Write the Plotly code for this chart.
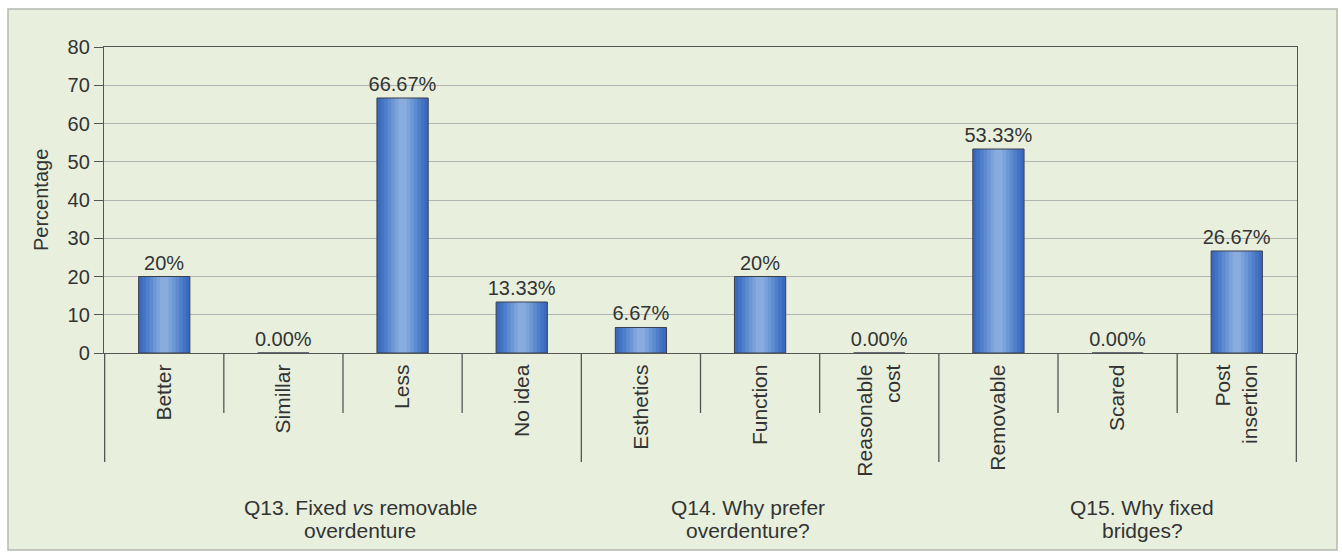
import plotly.graph_objects as go

# ---- data ----
categories = ["Better", "Simillar", "Less", "No idea", "Esthetics", "Function",
              "Reasonable<br>cost", "Removable", "Scared", "Post<br>insertion"]
values = [20, 0, 66.67, 13.33, 6.67, 20, 0, 53.33, 0, 26.67]
value_labels = ["20%", "0.00%", "66.67%", "13.33%", "6.67%", "20%", "0.00%",
                "53.33%", "0.00%", "26.67%"]
group_names = [["Q13. Fixed <i>vs</i> removable", "overdenture"],
               ["Q14. Why prefer", "overdenture?"],
               ["Q15. Why fixed", "bridges?"]]
group_sizes = [4, 3, 3]
y_ticks = [0, 10, 20, 30, 40, 50, 60, 70, 80]

# ---- layout geometry (pixels) ----
W, H = 1342, 554
L, R, T, B = 104, 1297, 47, 353
PW, PH = R - L, B - T


def px2x(px):
    return (px - L) / PW


def px2y(py):
    return (B - py) / PH


FONT = "Liberation Sans, Arial, sans-serif"
TXT = "#333333"
FS = 21

# gradient steps (outer -> inner)
widths = [0.43, 0.37, 0.31, 0.25, 0.19, 0.13, 0.07]
colors = ["#3a69bd", "#4373c3", "#4f7fca", "#5d8bd0", "#6c97d5", "#7ba2da", "#88acde"]

fig = go.Figure()
for w, c in zip(widths, colors):
    fig.add_trace(go.Bar(x=categories, y=values, width=w,
                         marker=dict(color=c, line=dict(width=0)),
                         hoverinfo="skip", showlegend=False))
# outline + labels on top
fig.add_trace(go.Bar(x=categories, y=values, width=widths[0],
                     marker=dict(color="rgba(0,0,0,0)", line=dict(width=1, color="#3a3f4a")),
                     text=value_labels, textposition="outside", cliponaxis=False,
                     constraintext="none",
                     textfont=dict(family=FONT, size=20, color=TXT),
                     showlegend=False))

shapes = []
# outer frame
shapes.append(dict(type="rect", xref="paper", yref="paper",
                   x0=px2x(0), x1=px2x(W), y0=px2y(H), y1=px2y(0),
                   fillcolor="white", line=dict(width=0), layer="below"))
shapes.append(dict(type="rect", xref="paper", yref="paper",
                   x0=px2x(8), x1=px2x(1337), y0=px2y(550), y1=px2y(9),
                   fillcolor="#e8f0dd", line=dict(width=1.5, color="#b5b8b0"), layer="below"))

# category dividers below the axis
n = len(categories)
group_edges = [-0.5]
acc = -0.5
for s in group_sizes:
    acc += s
    group_edges.append(acc)
for i in range(n + 1):
    xb = i - 0.5
    is_long = any(abs(xb - g) < 1e-9 for g in group_edges)
    shapes.append(dict(type="line", xref="x", yref="paper", x0=xb, x1=xb,
                       y0=0, y1=px2y(462 if is_long else 413),
                       line=dict(color="#555555", width=1.3)))

annotations = []
# y-axis title
annotations.append(dict(text="Percentage", xref="paper", yref="paper",
                        x=px2x(41), y=0.5, textangle=-90, showarrow=False,
                        font=dict(family=FONT, size=20, color=TXT),
                        xanchor="center", yanchor="middle"))
# group labels
group_centers_px = [360, 748, 1142]
for (l1, l2), cx in zip(group_names, group_centers_px):
    annotations.append(dict(text=l1, xref="paper", yref="paper", x=px2x(cx), y=px2y(507),
                            showarrow=False, xanchor="center", yanchor="middle",
                            font=dict(family=FONT, size=FS, color=TXT)))
    annotations.append(dict(text=l2, xref="paper", yref="paper", x=px2x(cx), y=px2y(530),
                            showarrow=False, xanchor="center", yanchor="middle",
                            font=dict(family=FONT, size=FS, color=TXT)))

fig.update_layout(
    width=W, height=H,
    margin=dict(l=L, r=W - R, t=T, b=H - B, pad=0),
    barmode="overlay",
    paper_bgcolor="white",
    plot_bgcolor="white",
    font=dict(family=FONT, size=FS, color=TXT),
    shapes=shapes,
    annotations=annotations,
    xaxis=dict(type="category", showgrid=False, showline=True, linecolor="#555555",
               linewidth=1.3, mirror=True, ticks="outside", ticklen=2,
               tickcolor="rgba(0,0,0,0)", tickangle=-90,
               tickfont=dict(family=FONT, size=FS, color=TXT), fixedrange=True),
    yaxis=dict(range=[0, 80], tickvals=y_ticks, showgrid=True, gridcolor="#b4b4b4",
               gridwidth=1.2, showline=True, linecolor="#555555", linewidth=1.3,
               mirror=True, ticks="outside", ticklen=9, tickcolor="#555555",
               tickfont=dict(family=FONT, size=20, color=TXT), zeroline=False,
               fixedrange=True),
)

fig.write_html("out.html")
